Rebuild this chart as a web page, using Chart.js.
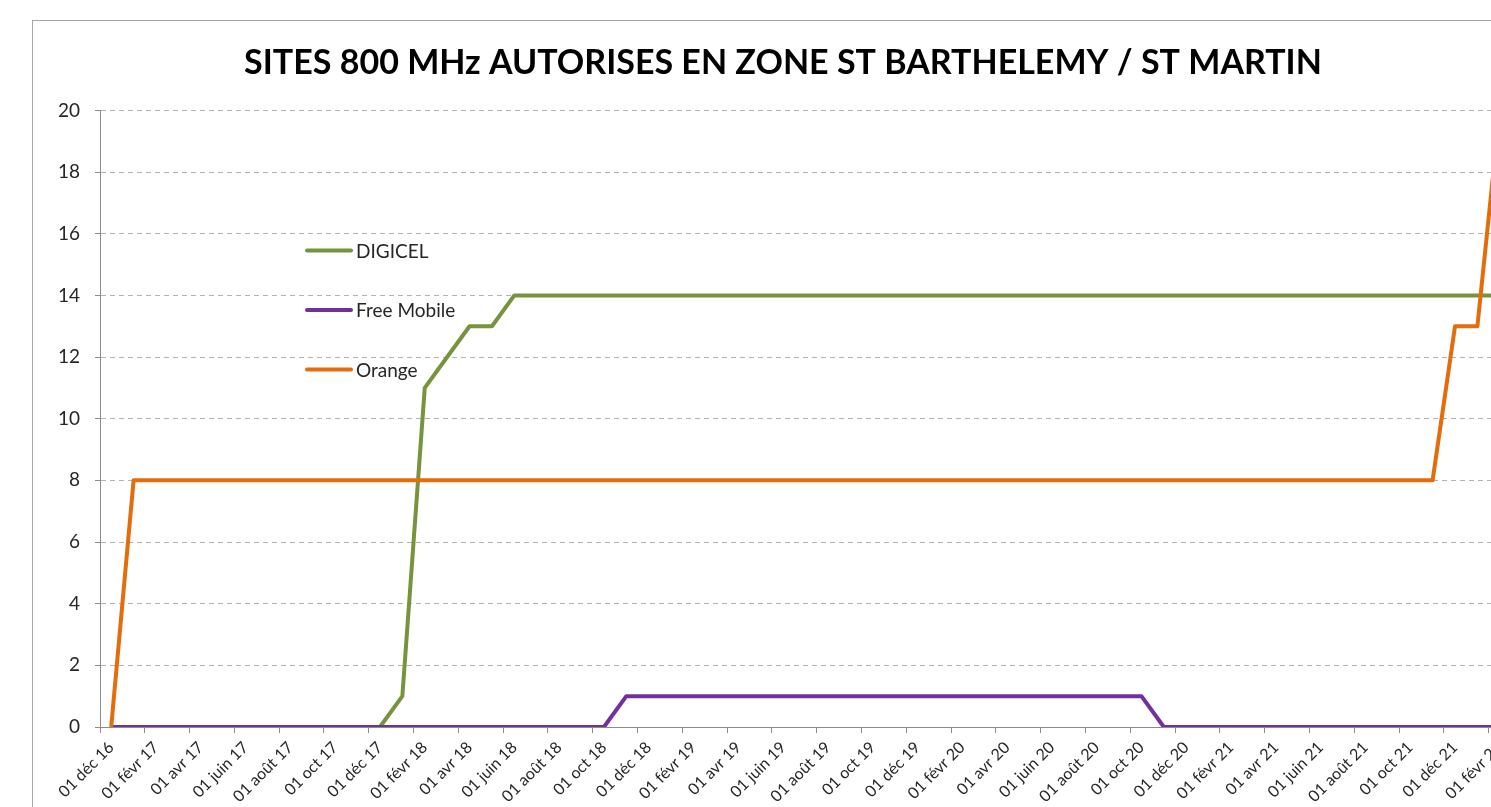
<!DOCTYPE html>
<html>
<head>
<meta charset="utf-8">
<script src="https://cdn.jsdelivr.net/npm/chart.js@4.4.1/dist/chart.umd.min.js"></script>
<style>
  html, body { margin: 0; padding: 0; background: #fff; overflow: hidden; }
  #frame {
    position: absolute; left: 32px; top: 20px;
    width: 1500px; height: 860px;
    border: 1px solid #a6a6a6;
  }
</style>
</head>
<body>
<div id="frame"><canvas id="sites-chart"></canvas></div>
<script>
// months (one point per month), only every second one gets a label on the axis
const months = [
  '01 déc 16',
  '01 janv 17', '01 févr 17', '01 mars 17', '01 avr 17', '01 mai 17', '01 juin 17',
  '01 juil 17', '01 août 17', '01 sept 17', '01 oct 17', '01 nov 17', '01 déc 17',
  '01 janv 18', '01 févr 18', '01 mars 18', '01 avr 18', '01 mai 18', '01 juin 18',
  '01 juil 18', '01 août 18', '01 sept 18', '01 oct 18', '01 nov 18', '01 déc 18',
  '01 janv 19', '01 févr 19', '01 mars 19', '01 avr 19', '01 mai 19', '01 juin 19',
  '01 juil 19', '01 août 19', '01 sept 19', '01 oct 19', '01 nov 19', '01 déc 19',
  '01 janv 20', '01 févr 20', '01 mars 20', '01 avr 20', '01 mai 20', '01 juin 20',
  '01 juil 20', '01 août 20', '01 sept 20', '01 oct 20', '01 nov 20', '01 déc 20',
  '01 janv 21', '01 févr 21', '01 mars 21', '01 avr 21', '01 mai 21', '01 juin 21',
  '01 juil 21', '01 août 21', '01 sept 21', '01 oct 21', '01 nov 21', '01 déc 21',
  '01 janv 22', '01 févr 22'
];

// number of authorised sites per operator
const digicel = [
  0, 0, 0, 0, 0, 0, 0, 0, 0, 0, 0, 0, 0,
  1, 11, 12, 13, 13, 14, 14, 14, 14, 14, 14, 14,
  14, 14, 14, 14, 14, 14, 14, 14, 14, 14, 14, 14,
  14, 14, 14, 14, 14, 14, 14, 14, 14, 14, 14, 14,
  14, 14, 14, 14, 14, 14, 14, 14, 14, 14, 14, 14,
  14, 14
];
const freeMobile = [
  0, 0, 0, 0, 0, 0, 0, 0, 0, 0, 0, 0, 0,
  0, 0, 0, 0, 0, 0, 0, 0, 0, 0, 1, 1,
  1, 1, 1, 1, 1, 1, 1, 1, 1, 1, 1, 1,
  1, 1, 1, 1, 1, 1, 1, 1, 1, 1, 0, 0,
  0, 0, 0, 0, 0, 0, 0, 0, 0, 0, 0, 0,
  0, 0
];
const orange = [
  0, 8, 8, 8, 8, 8, 8, 8, 8, 8, 8, 8, 8,
  8, 8, 8, 8, 8, 8, 8, 8, 8, 8, 8, 8,
  8, 8, 8, 8, 8, 8, 8, 8, 8, 8, 8, 8,
  8, 8, 8, 8, 8, 8, 8, 8, 8, 8, 8, 8,
  8, 8, 8, 8, 8, 8, 8, 8, 8, 8, 8, 13,
  13, 20
];

const yTicks = [0, 2, 4, 6, 8, 10, 12, 14, 16, 18, 20];

const FONT = 'Lato, Calibri, Carlito, sans-serif';
const AXIS_GREY = '#8c8c8c';

// legend drawn inside the plot, stacked lines + names
const insideLegend = {
    id: 'insideLegend',
    afterDatasetsDraw(chart) {
        const ctx = chart.ctx;
        const area = chart.chartArea;
        const x0 = area.left + 207;
        const y0 = area.top + 140;
        ctx.save();
        ctx.font = '19px ' + FONT;
        ctx.textBaseline = 'middle';
        chart.data.datasets.forEach(function(ds, i) {
            const y = y0 + i * 59.5;
            ctx.strokeStyle = ds.borderColor;
            ctx.lineWidth = 4;
            ctx.lineCap = 'round';
            ctx.beginPath();
            ctx.moveTo(x0, y);
            ctx.lineTo(x0 + 44, y);
            ctx.stroke();
            ctx.fillStyle = '#262626';
            ctx.fillText(ds.label, x0 + 49, y + 1);
        });
        ctx.restore();
    }
};

const data = {
    labels: months,
    datasets: [{
        label: 'DIGICEL',
        data: digicel,
        borderColor: '#77933c',
        order: 3
    }, {
        label: 'Free Mobile',
        data: freeMobile,
        borderColor: '#7030a0',
        order: 2
    }, {
        label: 'Orange',
        data: orange,
        borderColor: '#e46c0a',
        order: 1
    }]
};

const config = {
    type: 'line',
    data: data,
    plugins: [insideLegend],
    options: {
        responsive: true,
        maintainAspectRatio: false,
        animation: false,
        layout: {
            padding: 0
        },
        elements: {
            line: { borderWidth: 4, tension: 0, borderJoinStyle: 'round', fill: false },
            point: { radius: 0, hoverRadius: 0 }
        },
        plugins: {
            legend: { display: false },
            tooltip: { enabled: false },
            title: {
                display: true,
                text: 'SITES 800 MHz AUTORISES EN ZONE ST BARTHELEMY / ST MARTIN',
                color: '#000',
                font: { family: FONT, size: 34, weight: 'bold' },
                padding: { top: 22, bottom: 26.6 }
            }
        },
        scales: {
            x: {
                type: 'category',
                offset: true,
                afterFit: function(scale) { scale.height = 154; },
                grid: {
                    offset: true,
                    drawOnChartArea: false,
                    tickLength: 6,
                    tickColor: function(c) { return c.index % 2 === 0 ? AXIS_GREY : 'rgba(0,0,0,0)'; }
                },
                border: { color: AXIS_GREY, width: 1 },
                ticks: {
                    autoSkip: false,
                    maxRotation: 45,
                    minRotation: 45,
                    padding: 5,
                    color: '#262626',
                    font: { family: FONT, size: 16 },
                    callback: function(value, index) {
                        return index % 2 === 0 ? months[index] : '';
                    }
                }
            },
            y: {
                min: 0,
                max: 20,
                afterFit: function(scale) { scale.width = 67; },
                afterBuildTicks: function(scale) {
                    scale.ticks = yTicks.map(function(v) { return { value: v }; });
                },
                grid: {
                    color: '#b3b3b3',
                    tickLength: 5,
                    tickColor: AXIS_GREY
                },
                border: { color: AXIS_GREY, width: 1, dash: [5, 4] },
                ticks: {
                    padding: 15,
                    color: '#262626',
                    font: { family: FONT, size: 19 }
                }
            },
            // empty right margin so the title stays centred on the whole frame
            spacer: {
                type: 'linear',
                position: 'right',
                afterFit: function(scale) { scale.width = 22; },
                grid: { display: false },
                border: { display: false },
                ticks: { display: false }
            }
        }
    }
};

const context = document.getElementById('sites-chart').getContext('2d');
const sitesChart = new Chart(context, config);
</script>
</body>
</html>
